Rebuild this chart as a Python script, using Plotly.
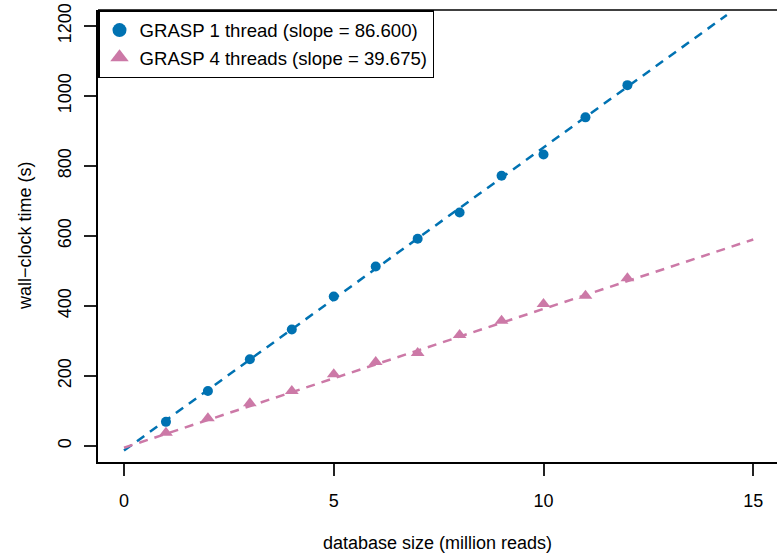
import plotly.graph_objects as go

# data
db_size = [1, 2, 3, 4, 5, 6, 7, 8, 9, 10, 11, 12]
t1 = [69, 157, 248, 333, 427, 513, 592, 667, 772, 833, 939, 1031]
t4 = [38, 79, 122, 157, 205, 240, 266, 317, 358, 406, 429, 479]
slope1, icpt1 = 86.600, -13.0
slope4, icpt4 = 39.675, -5.0
line_x1 = [0, 14.37]
line_x4 = [0, 15]
x_ticks = [0, 5, 10, 15]
y_ticks = [0, 200, 400, 600, 800, 1000, 1200]
label1 = "GRASP 1 thread (slope = 86.600)"
label4 = "GRASP 4 threads (slope = 39.675)"

BLUE = "#0072B2"
PINK = "#CC79A7"
FONT = "Liberation Sans, Arial, Helvetica, sans-serif"

fig = go.Figure()
fig.add_trace(go.Scatter(x=line_x1, y=[slope1 * x + icpt1 for x in line_x1], mode="lines",
                         line=dict(color=BLUE, width=2.5, dash="9px,7px"), showlegend=False,
                         hoverinfo="skip"))
fig.add_trace(go.Scatter(x=line_x4, y=[slope4 * x + icpt4 for x in line_x4], mode="lines",
                         line=dict(color=PINK, width=2.5, dash="9px,7px"), showlegend=False,
                         hoverinfo="skip"))
fig.add_trace(go.Scatter(x=db_size, y=t1, mode="markers",
                         marker=dict(color=BLUE, size=10, symbol="circle"),
                         name=label1, showlegend=False))
fig.add_trace(go.Scatter(x=db_size, y=t4, mode="markers",
                         marker=dict(color=PINK, size=12, symbol="triangle-up"),
                         name=label4, showlegend=False))
# legend-only entries with larger symbols
fig.add_trace(go.Scatter(x=[None], y=[None], mode="markers",
                         marker=dict(color=BLUE, size=14, symbol="circle"), name=label1))
fig.add_trace(go.Scatter(x=[None], y=[None], mode="markers",
                         marker=dict(color=PINK, size=16, symbol="triangle-up"), name=label4))

fig.update_layout(
    width=777, height=556,
    margin=dict(l=98, r=0, t=10, b=94),
    plot_bgcolor="white", paper_bgcolor="white",
    font=dict(family=FONT, size=18, color="black"),
    showlegend=True,
    legend=dict(x=0, y=1, xanchor="left", yanchor="top",
                bordercolor="black", borderwidth=1.5, bgcolor="white",
                font=dict(size=18.6), tracegroupgap=0, itemwidth=30),
    xaxis=dict(range=[-0.62, 15.566], tickvals=x_ticks, ticktext=[str(v) for v in x_ticks],
               showgrid=False, zeroline=False, showline=True, linecolor="black", linewidth=1.5,
               ticks="outside", ticklen=12, tickwidth=1.5, tickcolor="#222",
               ticklabelstandoff=10),
    yaxis=dict(range=[-45.7, 1245.7], tickvals=y_ticks, ticktext=[str(v) for v in y_ticks],
               tickangle=-90, showgrid=False, zeroline=False, showline=True,
               linecolor="black", linewidth=1.5,
               ticks="outside", ticklen=12, tickwidth=1.5, tickcolor="#222",
               ticklabelstandoff=6),
    shapes=[dict(type="line", xref="paper", yref="paper", x0=0, x1=1, y0=1, y1=1,
                 line=dict(color="black", width=1.5))],
    annotations=[
        dict(text="database size (million reads)", xref="paper", yref="paper",
             x=0.5, y=-0.179, xanchor="center", yanchor="middle", showarrow=False,
             font=dict(size=18)),
        dict(text="wall−clock time (s)", xref="paper", yref="paper",
             x=-0.1075, y=0.5, xanchor="center", yanchor="middle", showarrow=False,
             textangle=-90, font=dict(size=18)),
    ],
)

fig.write_html("out.html")
